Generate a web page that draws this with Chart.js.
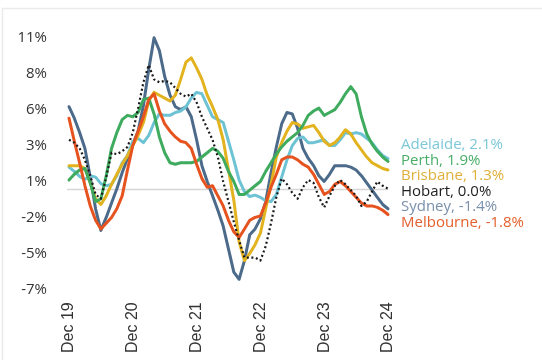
<!DOCTYPE html>
<html>
<head>
<meta charset="utf-8">
<script src="https://cdn.jsdelivr.net/npm/chart.js@4"></script>
<style>
  html, body { margin: 0; padding: 0; background: #fff; }
  #wrap { position: relative; width: 542px; height: 360px; }
</style>
</head>
<body>
<div id="wrap"><canvas id="c" width="542" height="360"></canvas></div>
<script>
// ---- data ----
const monthNames = ["Jan","Feb","Mar","Apr","May","Jun","Jul","Aug","Sep","Oct","Nov","Dec"];
const years = ["20","21","22","23","24"];
const categories = ["Dec 19"].concat(...years.map(y => monthNames.map(m => m + " " + y)));

const cities = ["Adelaide","Perth","Brisbane","Hobart","Sydney","Melbourne"];

const sydney = [5.7,4.9,3.9,2.8,0.8,-1.4,-2.9,-2.0,-1.0,0.0,1.1,2.1,3.1,4.0,5.8,8.3,10.5,9.6,7.8,6.5,5.7,5.5,5.7,5.0,3.4,1.6,0.5,-0.5,-1.5,-2.6,-4.2,-5.8,-6.3,-5.0,-3.2,-2.8,-2.1,-0.9,1.1,2.9,4.5,5.3,5.2,4.2,2.8,2.1,1.6,0.9,0.5,1.0,1.6,1.6,1.6,1.5,1.3,0.9,0.4,-0.1,-0.6,-1.1,-1.4];
const melbourne = [4.9,3.3,1.8,0.2,-1.2,-2.2,-2.8,-2.4,-2.0,-1.4,-0.5,1.3,3.0,4.0,5.0,6.2,6.6,5.4,4.5,4.0,3.6,3.3,3.2,2.8,1.7,0.7,0.1,0.2,-0.5,-1.2,-2.2,-3.0,-3.4,-2.8,-2.2,-2.0,-1.9,-1.0,0.1,1.0,2.0,2.2,2.2,2.0,1.7,1.5,1.0,0.3,-0.4,-0.2,0.3,0.5,0.2,-0.2,-0.6,-1.0,-1.2,-1.2,-1.3,-1.5,-1.8];
const brisbane = [1.6,1.6,1.6,1.4,0.4,-0.7,-1.1,-0.5,0.3,1.0,1.7,2.3,3.0,3.7,4.6,6.1,6.7,6.5,6.3,6.1,6.5,7.6,8.8,9.1,8.4,7.6,6.5,5.7,4.8,3.4,1.3,-0.8,-3.7,-5.0,-4.5,-3.9,-3.1,-1.4,0.3,2.2,3.2,4.0,4.6,4.5,4.2,4.3,4.4,3.9,3.3,3.0,3.2,3.6,4.1,3.8,3.2,2.7,2.2,1.8,1.6,1.4,1.3];
const adelaide = [1.5,1.2,0.85,0.65,0.9,0.8,0.35,0.2,0.3,0.9,1.8,2.3,3.3,3.5,3.2,3.7,4.6,5.2,5.1,5.1,5.3,5.4,5.7,6.3,6.7,6.6,5.8,5.0,4.8,4.6,3.3,2.0,0.6,-0.2,-0.55,-0.45,-0.6,-0.85,-0.9,-0.4,0.8,2.0,3.0,3.5,3.6,3.2,3.2,3.3,3.4,3.0,3.0,3.4,3.9,3.8,3.9,3.8,3.5,3.2,2.7,2.3,2.1];
const perth = [0.6,1.0,1.3,1.4,0.4,-0.9,-0.7,0.9,2.8,3.9,4.8,5.1,5.0,5.3,6.2,6.3,5.2,3.6,2.5,1.8,1.7,1.8,1.8,1.8,1.9,2.2,2.5,2.8,2.6,2.1,1.2,0.5,-0.4,-0.4,-0.1,0.2,0.5,1.2,1.8,2.4,2.9,3.3,3.6,3.9,4.4,5.1,5.4,5.6,5.1,5.3,5.5,6.0,6.6,7.1,6.6,5.0,3.8,3.1,2.6,2.2,1.9];
const hobart = [3.4,3.2,2.8,2.0,0.9,-0.4,-0.7,0.8,2.5,2.4,2.6,2.9,3.9,5.6,7.4,8.6,7.6,7.4,7.5,7.4,7.0,6.6,6.4,6.6,6.0,5.0,4.2,3.4,2.2,0.5,-0.9,-2.3,-3.6,-4.8,-4.8,-4.8,-5.0,-4.0,-2.4,-0.6,0.7,0.3,-0.3,-0.7,0.1,0.6,0.4,-0.6,-1.3,-0.5,0.2,0.6,0.3,-0.1,-0.5,-1.2,-0.9,-0.2,0.5,0.2,0.0];

const yTickValues = [-7,-4.5,-2,0.5,3,5.5,8,10.5];
const yTickLabels = ["-7%","-5%","-2%","1%","3%","6%","8%","11%"];
const xTickLabels = ["Dec 19","Dec 20","Dec 21","Dec 22","Dec 23","Dec 24"];

// ---- styles ----
const seriesStyle = {
  Hobart:    { line: "#1a1a1a", text: "#1f1f1f", width: 2.2, dash: [2, 2.6] },
  Melbourne: { line: "#e6531f", text: "#e4602c", width: 3 },
  Perth:     { line: "#3fab5f", text: "#4aae68", width: 3 },
  Brisbane:  { line: "#e3b31f", text: "#dfb03a", width: 3 },
  Adelaide:  { line: "#6dc3d3", text: "#7cc8d6", width: 3 },
  Sydney:    { line: "#4c6a89", text: "#7a90ab", width: 3 }
};
const seriesData = { Adelaide: adelaide, Perth: perth, Brisbane: brisbane, Hobart: hobart, Sydney: sydney, Melbourne: melbourne };
// draw order: first in list is drawn on top
const drawOrder = ["Hobart","Melbourne","Perth","Brisbane","Adelaide","Sydney"];

const datasets = drawOrder.map(name => ({
  label: name,
  data: seriesData[name],
  borderColor: seriesStyle[name].line,
  borderWidth: seriesStyle[name].width,
  borderDash: seriesStyle[name].dash || [],
  borderCapStyle: seriesStyle[name].dash ? "butt" : "round",
  borderJoinStyle: "round",
  pointRadius: 0,
  pointHoverRadius: 0,
  tension: 0,
  fill: false,
  clip: false
}));

const framePlugin = {
  id: "frame",
  beforeDraw(chart) {
    const ctx = chart.ctx;
    ctx.save();
    ctx.strokeStyle = "#ebebeb";
    ctx.lineWidth = 1.5;
    ctx.beginPath();
    ctx.moveTo(2.5, 360);
    ctx.lineTo(2.5, 8.5);
    ctx.lineTo(542, 8.5);
    ctx.stroke();
    ctx.restore();
  },
  beforeDatasetsDraw(chart) {
    const ctx = chart.ctx;
    const y = Math.round(chart.scales.y.getPixelForValue(0)) + 0.5;
    const a = chart.chartArea;
    ctx.save();
    ctx.strokeStyle = "#d6d6d6";
    ctx.lineWidth = 1.5;
    ctx.beginPath();
    ctx.moveTo(a.left - 2, y);
    ctx.lineTo(a.right, y);
    ctx.stroke();
    ctx.restore();
  }
};

const endLabelPlugin = {
  id: "endLabels",
  afterDatasetsDraw(chart) {
    const ctx = chart.ctx;
    const ys = chart.scales.y;
    const a = chart.chartArea;
    const gap = 15.5;
    const items = cities.map(name => {
      const d = seriesData[name];
      const v = d[d.length - 1];
      return { name, v, target: ys.getPixelForValue(v) };
    }).sort((p, q) => p.target - q.target);
    // cluster relaxation
    let clusters = items.map(it => ({ items: [it] }));
    const place = c => {
      const mean = c.items.reduce((s, it) => s + it.target, 0) / c.items.length;
      c.items.forEach((it, k) => { it.y = mean + (k - (c.items.length - 1) / 2) * gap; });
    };
    clusters.forEach(place);
    let changed = true;
    while (changed) {
      changed = false;
      for (let i = 1; i < clusters.length; i++) {
        const p = clusters[i - 1], c = clusters[i];
        if (p.items[p.items.length - 1].y + gap > c.items[0].y) {
          p.items = p.items.concat(c.items);
          clusters.splice(i, 1);
          place(p);
          changed = true;
          break;
        }
      }
    }
    ctx.save();
    ctx.font = "15px 'Open Sans'";
    ctx.textBaseline = "middle";
    ctx.textAlign = "left";
    items.forEach(it => {
      ctx.fillStyle = seriesStyle[it.name].text;
      ctx.fillText(it.name + ", " + it.v.toFixed(1) + "%", a.right + 13, it.y);
    });
    ctx.restore();
  }
};

new Chart(document.getElementById("c"), {
  type: "line",
  data: { labels: categories, datasets },
  options: {
    responsive: false,
    animation: false,
    events: [],
    layout: { padding: { top: 37.7, right: 154, bottom: 0, left: 0 } },
    plugins: { legend: { display: false }, tooltip: { enabled: false } },
    scales: {
      x: {
        type: "category",
        offset: false,
        grid: { display: false, drawTicks: false },
        border: { display: false },
        afterFit(scale) { scale.height = 70.7; },
        ticks: {
          autoSkip: false,
          minRotation: 90,
          maxRotation: 90,
          padding: 13,
          color: "#333",
          font: { family: "'Liberation Sans', Arial, sans-serif", size: 16 },
          callback(value) {
            const lab = this.getLabelForValue(value);
            return xTickLabels.includes(lab) ? lab : null;
          }
        }
      },
      y: {
        min: -7,
        max: 10.5,
        grid: { display: false, drawTicks: false },
        border: { display: false },
        afterFit(scale) { scale.width = 69; },
        afterBuildTicks(scale) { scale.ticks = yTickValues.map(v => ({ value: v })); },
        ticks: {
          padding: 22,
          color: "#333",
          font: { family: "'Open Sans', sans-serif", size: 15 },
          callback(value, index) { return yTickLabels[index]; }
        }
      }
    }
  },
  plugins: [framePlugin, endLabelPlugin]
});
</script>
</body>
</html>
